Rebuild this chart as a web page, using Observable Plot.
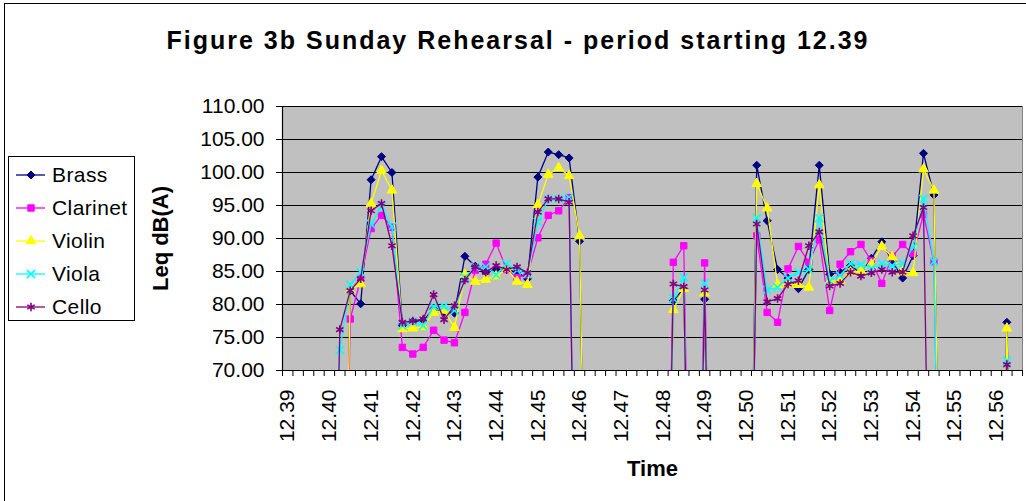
<!DOCTYPE html>
<html>
<head>
<meta charset="utf-8">
<script src="https://cdn.jsdelivr.net/npm/d3@7"></script>
<script src="https://cdn.jsdelivr.net/npm/@observablehq/plot@0.6"></script>
<style>
  html, body { margin: 0; padding: 0; background: #fff; }
  #wrap { position: relative; width: 1026px; height: 501px; overflow: hidden; font-family: "Liberation Sans", Arial, sans-serif; }
  #border { position: absolute; left: 4px; top: 3px; width: 1100px; height: 600px; border-left: 1.5px solid #000; border-top: 1.5px solid #000; box-sizing: border-box; }
  #title { position: absolute; left: 0; top: 28px; width: 1036px; text-align: center; font-size: 25px; line-height: 24px; letter-spacing: 2px; font-weight: bold; color: #000; white-space: nowrap; }
  #legend { position: absolute; left: 8px; top: 156px; width: 127px; height: 165px; border: 1px solid #000; background: #fff; box-sizing: border-box; }
  .item { position: absolute; left: 0; height: 30px; width: 125px; }
  .item svg { position: absolute; left: 0; top: 0; }
  .item span { position: absolute; left: 43px; top: 3px; font-size: 21px; line-height: 24px; letter-spacing: 0.4px; color: #000; }
  #chart { position: absolute; left: 0; top: 0; }
</style>
</head>
<body>
<div id="wrap">
  <div id="border"></div>
  <div id="chart"></div>
  <div id="title">Figure 3b Sunday Rehearsal - period starting 12.39</div>
  <div id="legend"></div>
</div>
<script>
// Category index 0..70 = 15-second steps starting 12.39
const tickLabels = ["12.39","12.40","12.41","12.42","12.43","12.44","12.45","12.46","12.47","12.48","12.49","12.50","12.51","12.52","12.53","12.54","12.55","12.56"];
const yTicks = [70, 75, 80, 85, 90, 95, 100, 105, 110];
const seriesNames = ["Brass", "Clarinet", "Violin", "Viola", "Cello"];

const brass = [
  0,0,0,0,0,
  0, 82.1, 80.1, 98.9, 102.4,
  100.0, 76.8, 77.4, 77.6, 79.3,
  78.8, 78.7, 87.3, 85.8, 84.9,
  85.3, 85.3, 84.9, 83.9, 99.3,
  103.1, 102.7, 102.2, 89.6, 0,
  0,0,0,0,0,
  0, 0, 80.6, 82.4, 0,
  80.8, 0, 0, 0, 0,
  101.1, 92.7, 85.3, 84.0, 82.4,
  85.3, 101.1, 84.6, 84.9, 85.9,
  84.7, 87.0, 89.5, 86.5, 84.0,
  87.4, 102.9, 96.6, 0, 0,
  0,0,0,0, 77.3, 0
];
const clarinet = [
  0,0,0,0,0,
  0, 77.8, 83.9, 91.5, 93.5,
  91.7, 73.5, 72.5, 73.5, 76.1,
  74.6, 74.2, 78.8, 85.2, 86.1,
  89.3, 85.3, 84.1, 84.5, 90.1,
  93.5, 94.2, 96.2, 0, 0,
  0,0,0,0,0,
  0, 0, 86.4, 88.9, 0,
  86.3, 0,0,0,0,
  90.4, 78.8, 77.3, 85.4, 88.8,
  86.4, 89.8, 79.1, 86.1, 88.0,
  89.1, 86.6, 83.2, 87.3, 89.1,
  87.7, 93.6, 86.5, 0, 0,
  0,0,0,0,0,0
];
const violin = [
  0,0,0,0,0,
  0, 82.3, 83.1, 95.3, 100.3,
  97.3, 76.3, 76.4, 76.6, 78.8,
  79.1, 76.5, 84.5, 83.5, 83.8,
  84.3, 85.4, 83.5, 83.0, 95.1,
  99.7, 100.7, 99.5, 90.4, 0,
  0,0,0,0,0,
  0, 0, 79.2, 82.4, 0,
  81.7, 0,0,0,0,
  98.3, 94.6, 83.0, 83.1, 83.0,
  82.6, 98.1, 83.5, 83.6, 84.9,
  85.1, 86.1, 88.8, 87.2, 84.9,
  84.8, 100.5, 97.3, 0, 0,
  0,0,0,0, 76.4, 0
];
const viola = [
  0,0,0,0,0,
  73.1, 83.0, 84.9, 92.2, 94.8,
  91.8, 76.8, 77.4, 76.8, 79.7,
  79.7, 79.1, 84.1, 85.7, 85.7,
  84.5, 86.2, 85.2, 84.6, 92.5,
  96.0, 96.0, 96.2, 0, 0,
  0,0,0,0,0,
  0, 0, 80.9, 84.1, 0,
  83.2, 0,0,0,0,
  93.1, 82.2, 82.6, 84.0, 84.9,
  85.3, 93.1, 83.6, 84.4, 86.2,
  86.0, 85.5, 86.2, 85.9, 86.2,
  88.7, 96.0, 86.5, 0, 0,
  0,0,0,0, 71.5, 0
];
const cello = [
  0,0,0,0,0,
  76.2, 82.1, 83.9, 94.2, 95.3,
  88.9, 77.3, 77.5, 77.8, 81.5,
  77.7, 79.8, 83.7, 85.7, 84.9,
  85.9, 85.3, 85.7, 84.8, 94.0,
  96.0, 96.0, 95.5, 0, 0,
  0,0,0,0,0,
  0, 0, 83.1, 82.7, 0,
  82.2, 0,0,0,0,
  92.2, 80.4, 80.9, 83.1, 83.6,
  88.9, 91.0, 82.8, 83.2, 84.9,
  84.3, 84.8, 85.3, 84.9, 84.9,
  90.4, 94.7, 0, 0, 0,
  0,0,0,0, 70.9, 0
];

const styles = [
  {color: "#000080", symbol: "diamond2", d3sym: d3.symbolDiamond2, r: 3.6, filled: true},
  {color: "#FF00FF", symbol: "square", d3sym: d3.symbolSquare, r: 3.6, filled: true},
  {color: "#FFFF00", symbol: "triangle", d3sym: d3.symbolTriangle, r: 3.6, filled: true},
  {color: "#00FFFF", symbol: "times", d3sym: d3.symbolTimes, r: 3.8, filled: false},
  {color: "#800080", symbol: "asterisk", d3sym: d3.symbolAsterisk, r: 4.0, filled: false}
];
const allValues = [brass, clarinet, violin, viola, cello];

const nCat = brass.length; // 71
const idx = d3.range(nCat);
const labelIdx = tickLabels.map((_, k) => k * 4);
const boundaries = d3.range(nCat + 1).map(k => k - 0.5);

const marks = [
  Plot.frame({fill: "#C0C0C0", stroke: "#808080"}),
  Plot.gridY(yTicks, {stroke: "#000", strokeOpacity: 1, strokeWidth: 1}),
  Plot.axisY(yTicks, {tickSize: 6, tickPadding: 12, tickFormat: d => d.toFixed(2), fontSize: 21, stroke: "#000", style: "letter-spacing: 1px"}),
  Plot.axisX(boundaries, {tickSize: 6, tickFormat: () => "", stroke: "#000"}),
  Plot.text(labelIdx, {x: d => d, text: (d, i) => tickLabels[i], frameAnchor: "bottom", dy: 19, rotate: -90, textAnchor: "end", lineAnchor: "middle", fontSize: 21, fill: "#000", style: "letter-spacing: 0.9px"}),
  Plot.text(["Leq dB(A)"], {text: d => d, frameAnchor: "left", dx: -122, rotate: -90, textAnchor: "middle", lineAnchor: "middle", fontSize: 22, fontWeight: "bold", fill: "#000", style: "letter-spacing: 0.8px"}),
  Plot.text(["Time"], {text: d => d, frameAnchor: "bottom", dy: 98, textAnchor: "middle", lineAnchor: "middle", fontSize: 22, fontWeight: "bold", fill: "#000", style: "letter-spacing: 0.8px"})
];

allValues.forEach((vals, s) => {
  const st = styles[s];
  marks.push(Plot.line(idx, {x: i => i, y: i => vals[i], stroke: st.color, strokeWidth: 1.3, clip: true}));
  marks.push(Plot.dot(idx.filter(i => vals[i] >= 70), {
    x: i => i, y: i => vals[i], symbol: st.symbol, r: st.r,
    fill: st.filled ? st.color : "none", stroke: st.color, strokeWidth: st.filled ? 1 : 1.6
  }));
});

marks.push(Plot.ruleX([-0.5], {stroke: "#000", strokeWidth: 1.2}));
marks.push(Plot.ruleY([70], {stroke: "#000", strokeWidth: 1.2}));

const chart = Plot.plot({
  width: 1026,
  height: 501,
  marginLeft: 282,
  marginRight: 4,
  marginTop: 106,
  marginBottom: 131,
  x: {type: "linear", domain: [-0.5, nCat - 0.5], axis: null},
  y: {type: "linear", domain: [70, 110], axis: null},
  style: {fontFamily: '"Liberation Sans", Arial, sans-serif', background: "transparent", color: "#000", overflow: "visible"},
  marks
});
document.getElementById("chart").appendChild(chart);

// Legend
const legend = document.getElementById("legend");
seriesNames.forEach((name, s) => {
  const st = styles[s];
  const item = document.createElement("div");
  item.className = "item";
  item.style.top = (3 + s * 33) + "px";
  const svg = d3.create("svg").attr("width", 42).attr("height", 30);
  svg.append("line").attr("x1", 7).attr("x2", 36).attr("y1", 15).attr("y2", 15)
    .attr("stroke", st.color).attr("stroke-width", 1.3);
  svg.append("path").attr("transform", "translate(22,15)")
    .attr("d", d3.symbol(st.d3sym, st.r * st.r * Math.PI)())
    .attr("fill", st.filled ? st.color : "none").attr("stroke", st.color)
    .attr("stroke-width", st.filled ? 1 : 1.6);
  item.appendChild(svg.node());
  const span = document.createElement("span");
  span.textContent = name;
  item.appendChild(span);
  legend.appendChild(item);
});
</script>
</body>
</html>
